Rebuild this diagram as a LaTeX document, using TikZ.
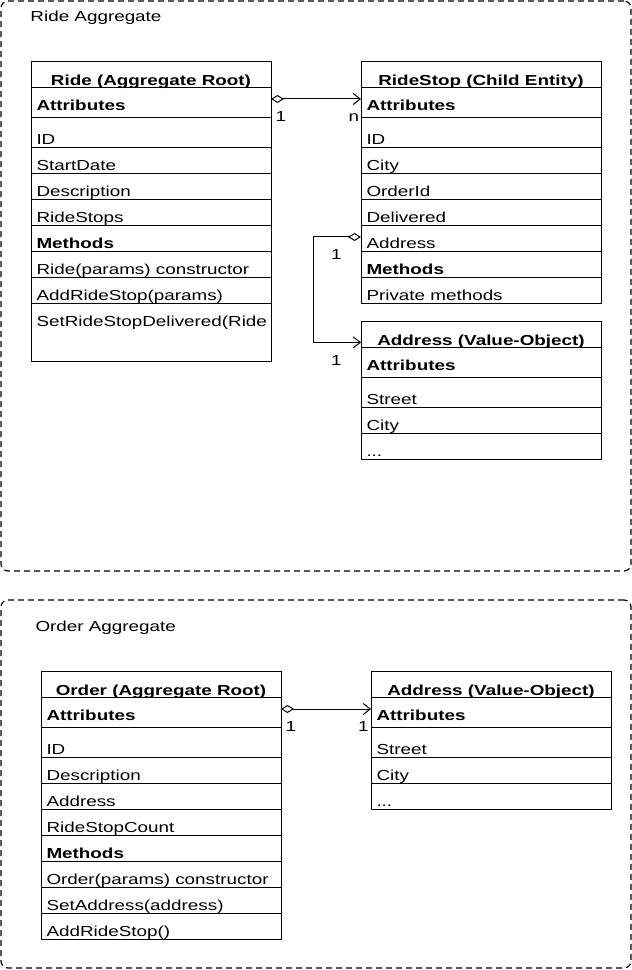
\documentclass[tikz,border=0pt]{standalone}
\usepackage{fontspec}
\setmainfont{Liberation Sans}[FakeStretch=1.3]
\usetikzlibrary{arrows.meta}

\begin{document}
\begin{tikzpicture}[x=1pt,y=-1pt,line width=1pt,
    font=\fontsize{14.5}{17}\selectfont,
    aggbox/.style={draw,dash pattern=on 6pt off 4pt,line width=1.2pt,rounded corners=7pt,anchor=north west,minimum width=630pt,inner sep=0pt,outer sep=0pt},
    classbox/.style={draw,anchor=north west,minimum width=240pt,inner sep=0pt,outer sep=0pt},
    classtitle/.style={font=\fontsize{14.5}{17}\selectfont\bfseries,anchor=base,inner sep=0pt},
    rowhead/.style={font=\fontsize{14.5}{17}\selectfont\bfseries,anchor=base west,inner sep=0pt},
    item/.style={anchor=base west,inner sep=0pt},
    card/.style={inner sep=0pt},
    agg/.style={arrows={Diamond[open,length=13pt,width=8pt]-Straight Barb[length=7pt,width=11pt]}}]

  \useasboundingbox (0,0) rectangle (632,970);

  % Ride aggregate
  \node[aggbox,minimum height=570pt] (rideagg) at (1,1) {};
  \node[item] (rideagg-label) at (30,21) {Ride Aggregate};

  % Ride (aggregate root)
  \node[classbox,minimum height=300pt] (ride) at (31,61) {};
  \node[classtitle] (ride-title) at (151,85) {Ride (Aggregate Root)};
  \node[rowhead] (ride-attr) at (36,110) {Attributes};
  \foreach \t [count=\i] in {ID,StartDate,Description,RideStops}
    \node[item] (ride-a\i) at (36,118+26*\i) {\t};
  \node[rowhead] (ride-meth) at (36,248) {Methods};
  \foreach \t [count=\i] in {Ride(params) constructor,AddRideStop(params),SetRideStopDelivered(Ride}
    \node[item] (ride-m\i) at (36,248+26*\i) {\t};
  \foreach \y in {87,117,147,173,199,225,251,277,303}
    \draw (31,\y) -- (271,\y);

  % RideStop (child entity)
  \node[classbox,minimum height=242pt] (rs) at (361,61) {};
  \node[classtitle] (rs-title) at (481,85) {RideStop (Child Entity)};
  \node[rowhead] (rs-attr) at (366,110) {Attributes};
  \foreach \t [count=\i] in {ID,City,OrderId,Delivered,Address}
    \node[item] (rs-a\i) at (366,118+26*\i) {\t};
  \node[rowhead] (rs-meth) at (366,274) {Methods};
  \node[item] (rs-m1) at (366,300) {Private methods};
  \foreach \y in {87,117,147,173,199,225,251,277}
    \draw (361,\y) -- (601,\y);

  % Address (value object) of the ride stop
  \node[classbox,minimum height=138pt] (vo1) at (361,321) {};
  \node[classtitle] (vo1-title) at (481,345) {Address (Value-Object)};
  \node[rowhead] (vo1-attr) at (366,370) {Attributes};
  \foreach \t [count=\i] in {Street,City}
    \node[item] (vo1-a\i) at (366,378+26*\i) {\t};
  \node[item] (vo1-a3) at (366,456) {...};
  \foreach \y in {347,377,407,433}
    \draw (361,\y) -- (601,\y);

  % Connections inside the ride aggregate
  \draw[agg] (ride.east |- ride-attr.north)
    -- node[card,pos=0,anchor=base west,xshift=4pt,yshift=-22.5pt] (c1) {1}
       node[card,pos=1,anchor=base east,xshift=-1.5pt,yshift=-22.5pt] (c2) {n}
    (rs.west |- ride-attr.north);
  \draw[agg] (rs.west |- rs-a5.north)
    -- node[card,pos=0,anchor=base east,xshift=-19pt,yshift=-23pt] (c3) {1}
    ++(-48pt,0)
    |- node[card,pos=1,anchor=base east,xshift=-19pt,yshift=-23pt] (c4) {1}
    (vo1.west |- vo1-title.mid);

  % Order aggregate
  \node[aggbox,minimum height=368pt] (orderagg) at (1,600) {};
  \node[item] (orderagg-label) at (35,631) {Order Aggregate};

  % Order (aggregate root)
  \node[classbox,minimum height=268pt] (order) at (41,671) {};
  \node[classtitle] (order-title) at (161,695) {Order (Aggregate Root)};
  \node[rowhead] (order-attr) at (46,720) {Attributes};
  \foreach \t [count=\i] in {ID,Description,Address,RideStopCount}
    \node[item] (order-a\i) at (46,728+26*\i) {\t};
  \node[rowhead] (order-meth) at (46,858) {Methods};
  \foreach \t [count=\i] in {Order(params) constructor,SetAddress(address),AddRideStop()}
    \node[item] (order-m\i) at (46,858+26*\i) {\t};
  \foreach \y in {697,727,757,783,809,835,861,887,913}
    \draw (41,\y) -- (281,\y);

  % Address (value object) of the order
  \node[classbox,minimum height=138pt] (vo2) at (371,671) {};
  \node[classtitle] (vo2-title) at (491,695) {Address (Value-Object)};
  \node[rowhead] (vo2-attr) at (376,720) {Attributes};
  \foreach \t [count=\i] in {Street,City}
    \node[item] (vo2-a\i) at (376,728+26*\i) {\t};
  \node[item] (vo2-a3) at (376,806) {...};
  \foreach \y in {697,727,757,783}
    \draw (371,\y) -- (611,\y);

  % Connection inside the order aggregate
  \draw[agg] (order.east |- order-attr.north)
    -- node[card,pos=0,anchor=base west,xshift=4pt,yshift=-22.5pt] (c5) {1}
       node[card,pos=1,anchor=base east,xshift=-2pt,yshift=-22.5pt] (c6) {1}
    (vo2.west |- order-attr.north);
\end{tikzpicture}
\end{document}
